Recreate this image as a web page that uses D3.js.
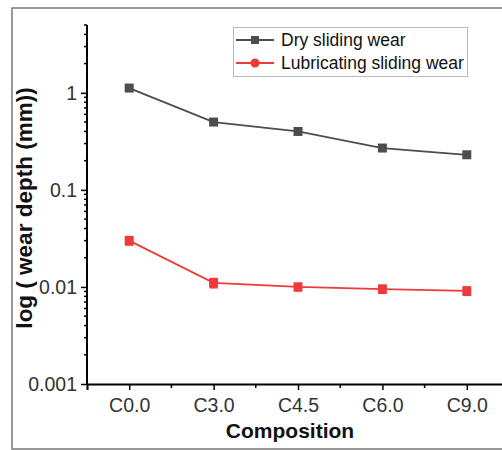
<!DOCTYPE html>
<html>
<head>
<meta charset="utf-8">
<script src="https://cdn.jsdelivr.net/npm/d3@7"></script>
<style>
  body { margin: 0; background: #fff; }
  svg { display: block; font-family: Arial, "Liberation Sans", sans-serif; }
</style>
</head>
<body>
<svg id="chart" width="502" height="450"></svg>
<script>
var categories = ['C0.0', 'C3.0', 'C4.5', 'C6.0', 'C9.0'];
var dryWear = [1.12, 0.50, 0.40, 0.27, 0.23];
var lubWear = [0.030, 0.011, 0.0100, 0.0095, 0.0091];
var lubErr = [0.003, 0.0012, 0.0009, 0.0009, 0.0009];
var yTicks = [0.001, 0.01, 0.1, 1];
var seriesNames = ['Dry sliding wear', 'Lubricating sliding wear'];

var svg = d3.select('#chart');
var plotLeft = 87, plotRight = 509, plotTop = 25, plotBottom = 384;

var xScale = d3.scalePoint().domain(categories).range([plotLeft, plotRight]).padding(0.5);
var yScale = d3.scaleLog().domain([0.001, 5]).range([plotBottom, plotTop]);

// outer frame
svg.append('rect')
    .attr('x', 12).attr('y', 8)
    .attr('width', 520).attr('height', 441)
    .attr('fill', 'none').attr('stroke', '#777').attr('stroke-width', 1.5);

// y axis
var yAxis = d3.axisLeft(yScale)
    .tickValues(yTicks)
    .tickFormat(function(d){ return d >= 1 ? '1' : String(d); })
    .tickSize(6).tickPadding(4);
var gy = svg.append('g').attr('transform', 'translate(' + plotLeft + ',0)').call(yAxis);

// minor y ticks
var minor = [];
[0.001, 0.01, 0.1, 1].forEach(function(dec){
    for(var k = 2; k <= 9; k++){
        var v = dec * k;
        if(v <= 5) minor.push(v);
    }
});
svg.append('g').selectAll('line')
    .data(minor)
    .enter()
    .append('line')
    .attr('x1', plotLeft - 3).attr('x2', plotLeft)
    .attr('y1', function(d){ return yScale(d); })
    .attr('y2', function(d){ return yScale(d); })
    .attr('stroke', '#000').attr('stroke-width', 1.5);

// x axis
var xAxis = d3.axisBottom(xScale).tickSize(6).tickPadding(8);
var gx = svg.append('g').attr('transform', 'translate(0,' + plotBottom + ')').call(xAxis);

var mids = categories.slice(1).map(function(c, i){
    return (xScale(categories[i]) + xScale(c)) / 2;
});
svg.append('g').selectAll('line')
    .data(mids)
    .enter()
    .append('line')
    .attr('x1', function(d){ return d; })
    .attr('x2', function(d){ return d; })
    .attr('y1', plotBottom).attr('y2', plotBottom + 4)
    .attr('stroke', '#000').attr('stroke-width', 1.5);

[gx, gy].forEach(function(g){
    g.attr('font-size', 19.5).attr('font-family', 'Arial, "Liberation Sans", sans-serif');
    g.select('.domain').attr('stroke', '#000').attr('stroke-width', 2);
    g.selectAll('.tick line').attr('stroke', '#000').attr('stroke-width', 1.5);
    g.selectAll('.tick text').attr('fill', '#333');
});
gy.select('.domain').attr('d', 'M0,' + plotBottom + 'V' + plotTop);

// axis titles
svg.append('text')
    .attr('x', 290).attr('y', 438)
    .attr('text-anchor', 'middle')
    .attr('font-size', 21).attr('font-weight', 'bold')
    .attr('fill', '#111')
    .text('Composition');

svg.append('text')
    .attr('transform', 'translate(32,208) rotate(-90)')
    .attr('text-anchor', 'middle')
    .attr('font-size', 22.5).attr('font-weight', 'bold')
    .attr('fill', '#111')
    .text('log ( wear depth (mm))');

var line = d3.line()
    .x(function(d, i){ return xScale(categories[i]); })
    .y(function(d){ return yScale(d); });

// dry series
var dryColor = '#4d4d4d';
svg.append('path').datum(dryWear)
    .attr('d', line).attr('fill', 'none')
    .attr('stroke', dryColor).attr('stroke-width', 1.8);
svg.append('g').selectAll('rect')
    .data(dryWear)
    .enter()
    .append('rect')
    .attr('x', function(d, i){ return xScale(categories[i]) - 4.5; })
    .attr('y', function(d){ return yScale(d) - 4.5; })
    .attr('width', 9).attr('height', 9)
    .attr('fill', dryColor);

// lubricated series
var lubColor = '#ee3a3a';
svg.append('path').datum(lubWear)
    .attr('d', line).attr('fill', 'none')
    .attr('stroke', lubColor).attr('stroke-width', 1.8);
var errG = svg.append('g');
lubWear.forEach(function(v, i){
    var x = xScale(categories[i]);
    var y1 = yScale(v + lubErr[i]), y2 = yScale(v - lubErr[i]);
    errG.append('line').attr('x1', x).attr('x2', x).attr('y1', y1).attr('y2', y2)
        .attr('stroke', lubColor).attr('stroke-width', 1.5);
    [y1, y2].forEach(function(y){
        errG.append('line').attr('x1', x - 4).attr('x2', x + 4).attr('y1', y).attr('y2', y)
            .attr('stroke', lubColor).attr('stroke-width', 1.5);
    });
});
svg.append('g').selectAll('rect')
    .data(lubWear)
    .enter()
    .append('rect')
    .attr('x', function(d, i){ return xScale(categories[i]) - 4.5; })
    .attr('y', function(d){ return yScale(d) - 4.5; })
    .attr('width', 9).attr('height', 9)
    .attr('fill', lubColor);

// legend
var legend = svg.append('g');
legend.append('rect')
    .attr('x', 233.5).attr('y', 27.5).attr('width', 234).attr('height', 49)
    .attr('fill', '#fff').attr('stroke', '#bbb');
var legendItems = [
    {name: seriesNames[0], color: dryColor, shape: 'square', y: 40},
    {name: seriesNames[1], color: lubColor, shape: 'circle', y: 63}
];
legendItems.forEach(function(it){
    legend.append('line').attr('x1', 236).attr('x2', 274)
        .attr('y1', it.y).attr('y2', it.y)
        .attr('stroke', it.color).attr('stroke-width', 1.8);
    if(it.shape == 'square'){
        legend.append('rect').attr('x', 251).attr('y', it.y - 4)
            .attr('width', 8).attr('height', 8).attr('fill', it.color);
    } else {
        legend.append('circle').attr('cx', 255).attr('cy', it.y)
            .attr('r', 4.5).attr('fill', it.color);
    }
    legend.append('text').attr('x', 281).attr('y', it.y + 6)
        .attr('font-size', 17.5).attr('fill', '#111')
        .text(it.name);
});
</script>
</body>
</html>
